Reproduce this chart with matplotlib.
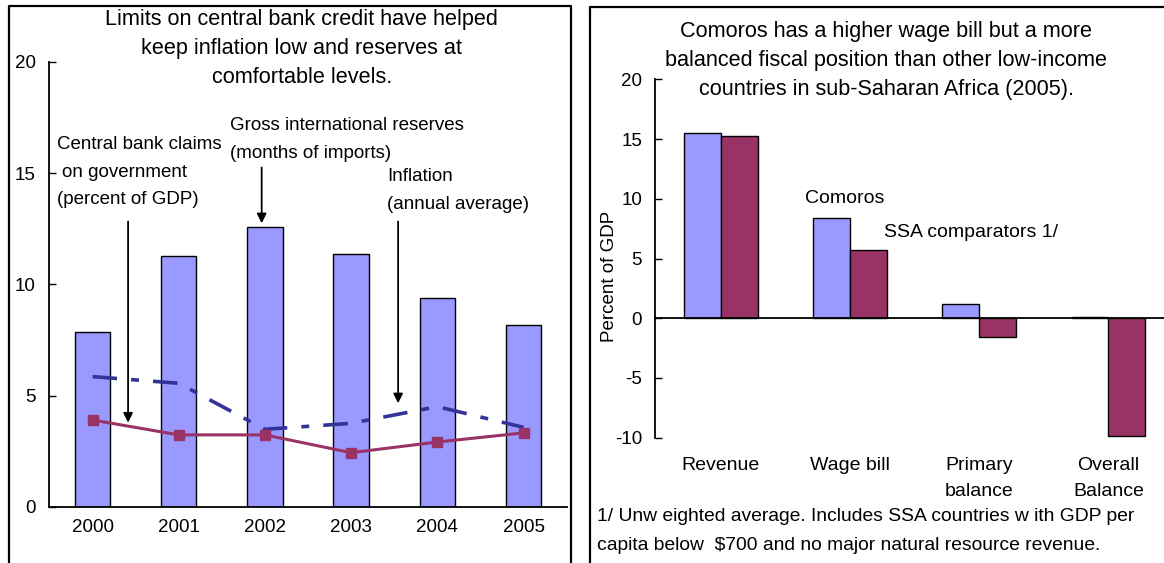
import numpy as np
import matplotlib
matplotlib.use("Agg")
import matplotlib.pyplot as plt
from matplotlib.lines import Line2D

plt.rcParams['font.family'] = ['Liberation Sans', 'DejaVu Sans']
plt.rcParams['font.size'] = 13.5
plt.rcParams['axes.unicode_minus'] = False

# left panel: monetary indicators
years = ['2000', '2001', '2002', '2003', '2004', '2005']
reserves = [7.85, 11.26, 12.57, 11.35, 9.41, 8.2]      # months of imports
cb_claims = [5.86, 5.56, 3.49, 3.76, 4.51, 3.58]       # percent of GDP
inflation = [3.91, 3.24, 3.24, 2.44, 2.92, 3.33]       # annual average

# right panel: fiscal comparison, 2005
fiscal_items = ['Revenue', 'Wage bill', 'Primary\nbalance', 'Overall\nBalance']
comoros = [15.56, 8.40, 1.17, 0.12]
ssa = [15.29, 5.70, -1.53, -9.83]

BAR_BLUE = '#9999FF'
PLUM = '#993366'
NAVY = '#333399'

fig = plt.figure(figsize=(11.64, 5.63), dpi=100)

# panel frames (cut off by the figure edge at the bottom / right)
frame_kw = dict(transform=fig.transFigure, color='black', lw=1.6)
fig.add_artist(Line2D([0.008, 0.008, 0.4903, 0.4903], [-0.02, 0.990, 0.990, -0.02], **frame_kw))
fig.add_artist(Line2D([0.5069, 0.5069, 1.02], [-0.02, 0.987, 0.987], **frame_kw))

# ---------------- left panel ----------------
ax1 = fig.add_axes([0.0425, 0.0995, 0.4443, 0.7904])
x = np.arange(len(years))
ax1.bar(x, reserves, width=0.41, color=BAR_BLUE, edgecolor='black', linewidth=1.0, zorder=2)
dash_line, = ax1.plot(x, cb_claims, color=NAVY, lw=2.6, zorder=3)
dash_line.set_dashes([6.8, 3.9, 2.2, 3.9])
ax1.plot(x, inflation, color=PLUM, lw=2.2, marker='s', markersize=7, zorder=4)

ax1.set_xlim(-0.5, 5.5)
ax1.set_ylim(0, 20)
ax1.set_yticks([0, 5, 10, 15, 20])
ax1.set_xticks(x)
ax1.set_xticklabels(years)
ax1.tick_params(axis='y', direction='in', length=5, width=1, pad=10)
ax1.tick_params(axis='x', length=0, pad=9)
for side in ['top', 'right']:
    ax1.spines[side].set_visible(False)
for side in ['left', 'bottom']:
    ax1.spines[side].set_linewidth(1.3)

title1 = ['Limits on central bank credit have helped',
          'keep inflation low and reserves at',
          'comfortable levels.']
for line, yy in zip(title1, [21.89, 20.60, 19.30]):
    ax1.text(2.426, yy, line, ha='center', va='center', fontsize=15.6)

ax1.text(-0.415, 16.31, 'Central bank claims', va='center')
ax1.text(-0.35, 15.02, 'on government', va='center')
ax1.text(-0.415, 13.80, '(percent of GDP)', va='center')
ax1.text(1.595, 17.16, 'Gross international reserves', va='center')
ax1.text(1.595, 15.87, '(months of imports)', va='center')
ax1.text(3.415, 14.85, 'Inflation', va='center')
ax1.text(3.415, 13.61, '(annual average)', va='center')

arrow_kw = dict(arrowstyle='-|>', color='black', lw=1.3, mutation_scale=14, shrinkA=0, shrinkB=0)
ax1.annotate('', xy=(0.412, 3.79), xytext=(0.412, 12.83), arrowprops=arrow_kw)
ax1.annotate('', xy=(1.962, 12.75), xytext=(1.962, 15.26), arrowprops=arrow_kw)
ax1.annotate('', xy=(3.545, 4.66), xytext=(3.545, 12.83), arrowprops=arrow_kw)

# ---------------- right panel ----------------
ax2 = fig.add_axes([0.5623, 0.2226, 0.4377, 0.6362])
xi = np.arange(len(fiscal_items))
w = 0.285
ax2.bar(xi - w / 2, comoros, width=w, color=BAR_BLUE, edgecolor='black', linewidth=1.0, zorder=2)
ax2.bar(xi + w / 2, ssa, width=w, color=PLUM, edgecolor='black', linewidth=1.0, zorder=2)

ax2.set_xlim(-0.514, 3.43)
ax2.set_ylim(-10, 20)
ax2.set_yticks([-10, -5, 0, 5, 10, 15, 20])
ax2.set_xticks([])
ax2.tick_params(axis='y', direction='in', length=5, width=1, pad=9)
ax2.spines['bottom'].set_position(('data', 0))
ax2.spines['bottom'].set_zorder(3)
for side in ['top', 'right']:
    ax2.spines[side].set_visible(False)
for side in ['left', 'bottom']:
    ax2.spines[side].set_linewidth(1.3)

for i, label in enumerate(fiscal_items):
    lines = label.split('\n')
    for line, yy in zip(lines, [-12.29, -14.47]):
        ax2.text(i, yy, line, ha='center', va='center', fontsize=14)

ax2.text(-0.088, 0.45, 'Percent of GDP', rotation=90, ha='center', va='center',
         transform=ax2.transAxes)

title2 = ['Comoros has a higher wage bill but a more',
          'balanced fiscal position than other low-income',
          'countries in sub-Saharan Africa (2005).']
for line, yy in zip(title2, [23.98, 21.57, 19.17]):
    ax2.text(1.28, yy, line, ha='center', va='center', fontsize=15.6)

ax2.text(0.65, 10.05, 'Comoros', va='center', fontsize=14)
ax2.text(1.26, 7.2, 'SSA comparators 1/', va='center', fontsize=14)

ax2.text(-0.957, -16.6, '1/ Unw eighted average. Includes SSA countries w ith GDP per',
         va='center', fontsize=13.9)
ax2.text(-0.957, -19.0, 'capita below  $700 and no major natural resource revenue.',
         va='center', fontsize=13.9)

fig.savefig('out.png', dpi=100)
